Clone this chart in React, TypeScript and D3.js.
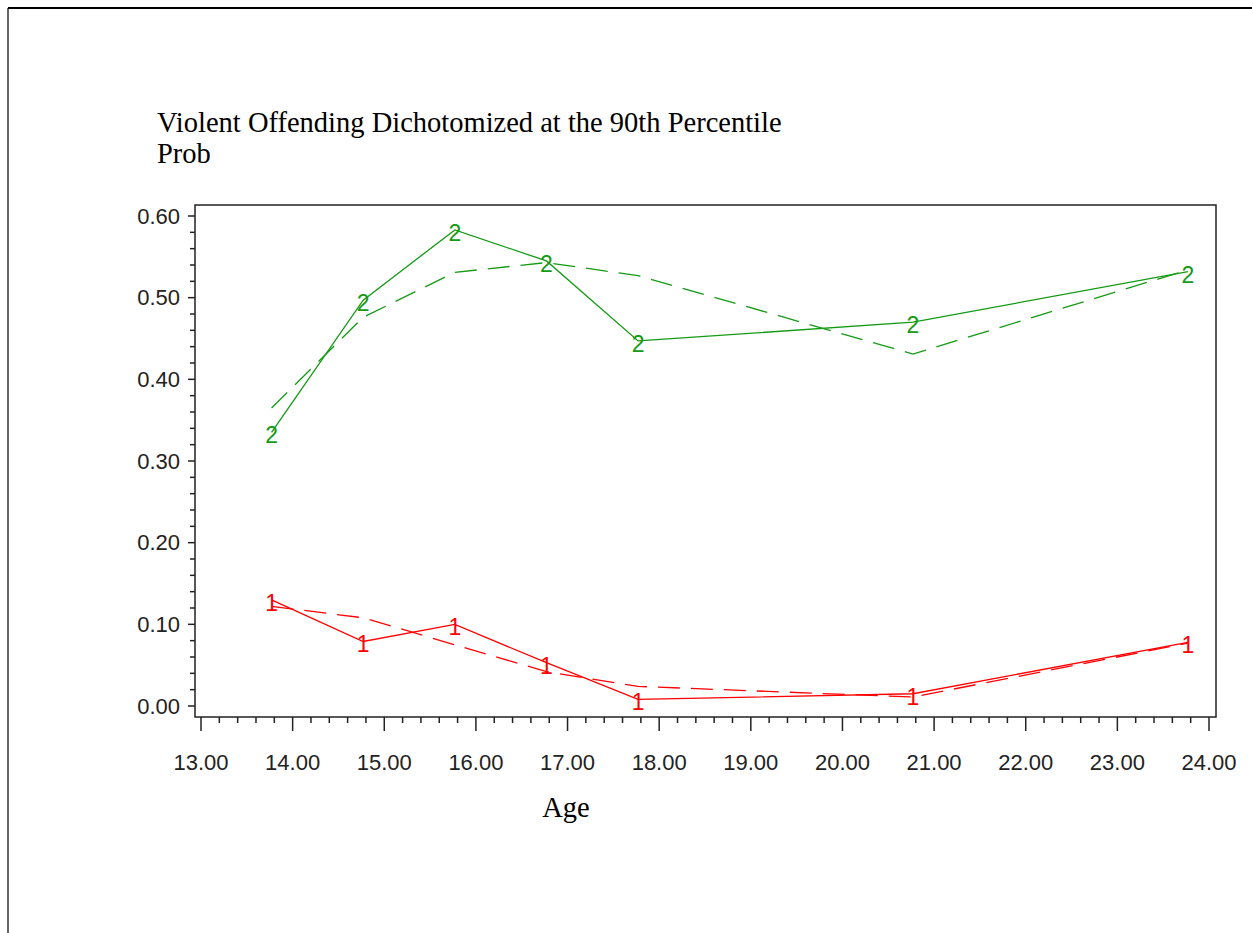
import React from 'react';
import * as d3 from 'd3';

// ages (x) shared by every series
const ages = [13.77, 14.77, 15.77, 16.77, 17.77, 20.77, 23.77];

// group 2 (green): observed (solid, with "2" symbols) and fitted (dashed)
const greenObserved = [0.335, 0.497, 0.583, 0.545, 0.447, 0.47, 0.532];
const greenFitted = [0.365, 0.476, 0.531, 0.543, 0.527, 0.431, 0.534];

// group 1 (red): observed (solid, with "1" symbols) and fitted (dashed)
const redObserved = [0.13, 0.079, 0.1, 0.053, 0.008, 0.015, 0.078];
const redFitted = [0.122, 0.108, 0.075, 0.042, 0.024, 0.011, 0.077];

const xTicks = [13, 14, 15, 16, 17, 18, 19, 20, 21, 22, 23, 24];
const yTicks = [0, 0.1, 0.2, 0.3, 0.4, 0.5, 0.6];

const title = 'Violent Offending Dichotomized at the 90th Percentile';
const yLabel = 'Prob';
const xLabel = 'Age';

const W = 1252;
const H = 933;
const frame = { left: 195, top: 205, right: 1216, bottom: 717 };

const GREEN = '#149a14';
const RED = '#ff0000';
const tickFont = '"Liberation Sans", Arial, sans-serif';
const serif = '"Liberation Serif", "Times New Roman", serif';

const App = () => {
  const x = d3.scaleLinear().domain([13, 24]).range([201, 1209]);
  const y = d3.scaleLinear().domain([0, 0.6]).range([706, 216]);

  const line = d3
    .line<[number, number]>()
    .x(d => x(d[0]))
    .y(d => y(d[1]));

  const pts = (vals: number[]) => ages.map((a, i) => [a, vals[i]] as [number, number]);

  // minor ticks: 4 between each pair of majors
  const xMinor = d3.range(13, 24.001, 0.2).filter(v => Math.abs(v - Math.round(v)) > 0.01);
  const yMinor = d3.range(0, 0.6001, 0.02).filter(v => Math.abs(v * 10 - Math.round(v * 10)) > 0.01);

  const series = [
    { vals: greenObserved, color: GREEN, dash: null, sym: '2' },
    { vals: greenFitted, color: GREEN, dash: '22,11', sym: null },
    { vals: redObserved, color: RED, dash: null, sym: '1' },
    { vals: redFitted, color: RED, dash: '22,11', sym: null },
  ];

  return (
    <svg
      width={W}
      height={H}
      style={{ position: 'absolute', left: 0, top: 0, background: '#fff' }}
    >
      {/* outer border */}
      <line x1={8} y1={8} x2={W} y2={8} stroke="#000" strokeWidth={2} />
      <line x1={8} y1={8} x2={8} y2={H} stroke="#000" strokeWidth={1.2} />

      <text x={157} y={132} fontFamily={serif} fontSize={28.5} fill="#000">
        {title}
      </text>
      <text x={157} y={163} fontFamily={serif} fontSize={28.5} fill="#000">
        {yLabel}
      </text>

      {/* frame */}
      <rect
        x={frame.left}
        y={frame.top}
        width={frame.right - frame.left}
        height={frame.bottom - frame.top}
        fill="none"
        stroke="#222"
        strokeWidth={1.5}
      />

      {/* y axis ticks */}
      {yTicks.map(t => (
        <g key={'y' + t}>
          <line x1={frame.left - 7} x2={frame.left} y1={y(t)} y2={y(t)} stroke="#222" strokeWidth={1.5} />
          <text
            x={frame.left - 15}
            y={y(t)}
            textAnchor="end"
            dominantBaseline="central"
            fontFamily={tickFont}
            fontSize={22}
            fill="#222"
          >
            {d3.format('.2f')(t)}
          </text>
        </g>
      ))}
      {yMinor.map(t => (
        <line key={'ym' + t} x1={frame.left - 5} x2={frame.left} y1={y(t)} y2={y(t)} stroke="#222" strokeWidth={1.5} />
      ))}

      {/* x axis ticks */}
      {xTicks.map(t => (
        <g key={'x' + t}>
          <line x1={x(t)} x2={x(t)} y1={frame.bottom} y2={frame.bottom + 14} stroke="#222" strokeWidth={1.5} />
          <text
            x={x(t)}
            y={770}
            textAnchor="middle"
            fontFamily={tickFont}
            fontSize={22}
            fill="#222"
          >
            {d3.format('.2f')(t)}
          </text>
        </g>
      ))}
      {xMinor.map(t => (
        <line key={'xm' + t} x1={x(t)} x2={x(t)} y1={frame.bottom} y2={frame.bottom + 6} stroke="#222" strokeWidth={1.5} />
      ))}

      <text x={566} y={817} textAnchor="middle" fontFamily={serif} fontSize={28.5} fill="#000">
        {xLabel}
      </text>

      {/* series */}
      {series.map((s, i) => (
        <g key={'s' + i}>
          <path
            d={line(pts(s.vals)) || ''}
            fill="none"
            stroke={s.color}
            strokeWidth={1.3}
            strokeDasharray={s.dash || undefined}
          />
          {s.sym &&
            pts(s.vals).map((p, j) => (
              <text
                key={j}
                x={x(p[0])}
                y={y(p[1]) + 11}
                textAnchor="middle"
                fontFamily={tickFont}
                fontSize={23}
                fill={s.color}
              >
                {s.sym}
              </text>
            ))}
        </g>
      ))}
    </svg>
  );
};

export default App;
